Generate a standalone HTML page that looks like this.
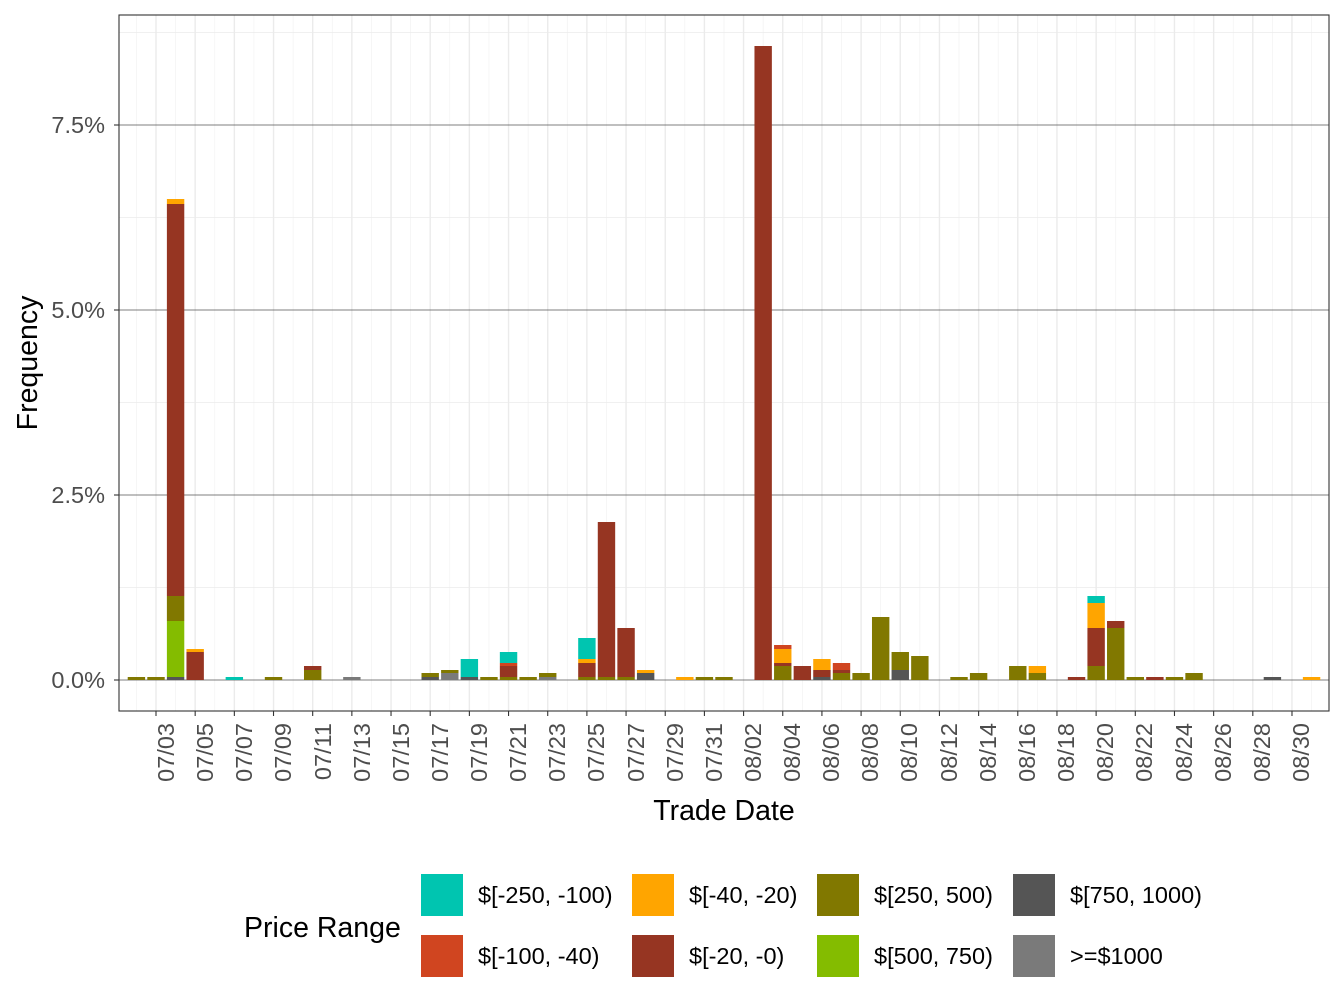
<!DOCTYPE html>
<html><head><meta charset="utf-8"><style>body{margin:0;background:#fff}svg{display:block;font-family:"Liberation Sans",sans-serif}</style></head><body>
<svg id="s" width="1344" height="1008" xmlns="http://www.w3.org/2000/svg">
<rect x="0" y="0" width="1344" height="1008" fill="#fff"/>
<g id="grid"></g>
<g id="bars"></g>
<rect x="119" y="15" width="1210" height="696" fill="none" stroke="#333" stroke-width="1.1"/>
<g font-size="23.5" fill="#4d4d4d" text-anchor="end">
<text x="105" y="688">0.0%</text>
<text x="105" y="503">2.5%</text>
<text x="105" y="318">5.0%</text>
<text x="105" y="133">7.5%</text>
</g>
<g id="xl" font-size="23.5" fill="#4d4d4d" text-anchor="end">
<text transform="translate(174,723) rotate(-90)">07/03</text>
<text transform="translate(213,723) rotate(-90)">07/05</text>
<text transform="translate(252,723) rotate(-90)">07/07</text>
<text transform="translate(291,723) rotate(-90)">07/09</text>
<text transform="translate(331,723) rotate(-90)">07/11</text>
<text transform="translate(370,723) rotate(-90)">07/13</text>
<text transform="translate(409,723) rotate(-90)">07/15</text>
<text transform="translate(448,723) rotate(-90)">07/17</text>
<text transform="translate(487,723) rotate(-90)">07/19</text>
<text transform="translate(526,723) rotate(-90)">07/21</text>
<text transform="translate(565,723) rotate(-90)">07/23</text>
<text transform="translate(604,723) rotate(-90)">07/25</text>
<text transform="translate(644,723) rotate(-90)">07/27</text>
<text transform="translate(683,723) rotate(-90)">07/29</text>
<text transform="translate(722,723) rotate(-90)">07/31</text>
<text transform="translate(761,723) rotate(-90)">08/02</text>
<text transform="translate(800,723) rotate(-90)">08/04</text>
<text transform="translate(839,723) rotate(-90)">08/06</text>
<text transform="translate(878,723) rotate(-90)">08/08</text>
<text transform="translate(917,723) rotate(-90)">08/10</text>
<text transform="translate(957,723) rotate(-90)">08/12</text>
<text transform="translate(996,723) rotate(-90)">08/14</text>
<text transform="translate(1035,723) rotate(-90)">08/16</text>
<text transform="translate(1074,723) rotate(-90)">08/18</text>
<text transform="translate(1113,723) rotate(-90)">08/20</text>
<text transform="translate(1152,723) rotate(-90)">08/22</text>
<text transform="translate(1192,723) rotate(-90)">08/24</text>
<text transform="translate(1231,723) rotate(-90)">08/26</text>
<text transform="translate(1270,723) rotate(-90)">08/28</text>
<text transform="translate(1309,723) rotate(-90)">08/30</text>
</g>
<text x="724" y="820" font-size="28.5" text-anchor="middle" fill="#000">Trade Date</text>
<text transform="translate(37,363) rotate(-90)" font-size="28.5" text-anchor="middle" fill="#000">Frequency</text>
<text x="244" y="937" font-size="28.5" fill="#000">Price Range</text>
<g>
<rect x="421" y="874" width="42" height="42" fill="#00C5B0"/>
<rect x="421" y="935" width="42" height="42" fill="#D04520"/>
<rect x="632" y="874" width="42" height="42" fill="#FFA500"/>
<rect x="632" y="935" width="42" height="42" fill="#963522"/>
<rect x="817" y="874" width="42" height="42" fill="#817800"/>
<rect x="817" y="935" width="42" height="42" fill="#84BC00"/>
<rect x="1013" y="874" width="42" height="42" fill="#555555"/>
<rect x="1013" y="935" width="42" height="42" fill="#7a7a7a"/>
</g>
<g font-size="23.5" fill="#000">
<text x="478" y="903">$[-250, -100)</text>
<text x="478" y="964">$[-100, -40)</text>
<text x="689" y="903">$[-40, -20)</text>
<text x="689" y="964">$[-20, -0)</text>
<text x="874" y="903">$[250, 500)</text>
<text x="874" y="964">$[500, 750)</text>
<text x="1070" y="903">$[750, 1000)</text>
<text x="1070" y="964">&gt;=$1000</text>
</g>
</svg>
<script>
const NS="http://www.w3.org/2000/svg";
function r(g,x,y,w,h,f){const e=document.createElementNS(NS,"rect");e.setAttribute("x",x);e.setAttribute("y",y);e.setAttribute("width",w);e.setAttribute("height",h);e.setAttribute("fill",f);g.appendChild(e);}
function l(g,x1,y1,x2,y2,c,w){const e=document.createElementNS(NS,"line");e.setAttribute("x1",x1);e.setAttribute("y1",y1);e.setAttribute("x2",x2);e.setAttribute("y2",y2);e.setAttribute("stroke",c);e.setAttribute("stroke-width",w);g.appendChild(e);}
const G=document.getElementById("grid"),B=document.getElementById("bars");
const dx=19.586,x0=156;
for(let i=0;i<30;i++){const x=x0+2*dx*i;l(G,x,15,x,711,"#ebebeb",1.4);l(G,x+dx,15,x+dx,711,"#f2f2f2",0.7);l(G,x,711,x,716,"#333",1.1);}
l(G,x0-dx,15,x0-dx,711,"#f2f2f2",0.7);
[587.5,402.5,217.5,32.5].forEach(y=>l(G,119,y,1329,y,"#ebebeb",0.8));
[680,495,310,125].forEach(y=>{l(G,119,y,1329,y,"#555",0.8);l(G,114,y,119,y,"#333",1.1);});
const C={t:"#00C5B0",o:"#D04520",a:"#FFA500",r:"#963522",v:"#817800",l:"#84BC00",d:"#555555",g:"#7a7a7a"};
const D=[
[-1,[["v",677]]],[0,[["v",677]]],
[1,[["d",677],["l",621],["v",596],["r",204],["a",199]]],
[2,[["r",652],["a",649]]],
[4,[["t",677]]],[6,[["v",677]]],[8,[["v",670],["r",666]]],[10,[["g",677]]],
[14,[["d",677],["v",673]]],[15,[["g",673],["v",670]]],[16,[["d",677],["t",659]]],[17,[["v",677]]],
[18,[["v",677],["r",666],["o",663],["t",652]]],[19,[["v",677]]],[20,[["g",677],["v",673]]],
[22,[["v",677],["r",663],["a",659],["t",638]]],[23,[["v",677],["r",522]]],[24,[["v",677],["r",628]]],
[25,[["d",673],["a",670]]],[27,[["a",677]]],[28,[["v",677]]],[29,[["v",677]]],
[31,[["r",46]]],[32,[["v",666],["r",663],["a",649],["o",645]]],[33,[["r",666]]],
[34,[["d",677],["r",670],["a",659]]],[35,[["v",673],["r",670],["o",663]]],[36,[["v",673]]],
[37,[["v",617]]],[38,[["d",670],["v",652]]],[39,[["v",656]]],
[41,[["v",677]]],[42,[["v",673]]],[44,[["v",666]]],[45,[["v",673],["a",666]]],
[47,[["r",677]]],[48,[["v",666],["r",628],["a",603],["t",596]]],[49,[["v",628],["r",621]]],
[50,[["v",677]]],[51,[["r",677]]],[52,[["v",677]]],[53,[["v",673]]],[57,[["d",677]]],[59,[["a",677]]]
];
D.forEach(([i,s])=>{const cx=x0+dx*i,w=17.4;let b=680;s.forEach(([c,t])=>{r(B,cx-w/2,t,w,b-t,C[c]);b=t;});});
</script>
</body></html>
